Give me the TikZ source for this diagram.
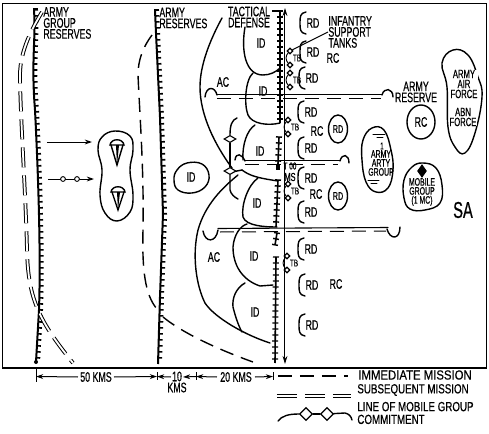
\documentclass[tikz,border=0pt]{standalone}
\usepackage{fontspec}
\setmainfont{Liberation Sans}[FakeStretch=0.64,FakeBold=0.5]
\newfontfamily\legendfont{Liberation Sans}[FakeStretch=0.74,FakeBold=0.5]
\newfontfamily\legendwide{Liberation Sans}[FakeStretch=0.86,FakeBold=0.5]
\usetikzlibrary{decorations.pathreplacing,shapes.geometric,arrows.meta}
\tikzset{
  lbl/.style={inner sep=0pt,align=center,font=\fontsize{6.9}{5.5}\selectfont},
  lblsmall/.style={inner sep=0pt,font=\fontsize{5}{5}\selectfont},
  lblleft/.style={lbl,align=left,anchor=west},
  legendlbl/.style={inner sep=0pt,anchor=west,align=left,font=\fontsize{6.6}{6.4}\legendfont},
  edge/.style={line width=.7pt,line cap=round},
  thin edge/.style={line width=.45pt},
  front/.style={line width=1pt,postaction={decorate,draw,line width=.8pt,
    decoration={border,segment length=3pt,amplitude=2pt,angle=90}}},
  tacfront/.style={line width=.8pt,postaction={decorate,draw,line width=.7pt,
    decoration={ticks,segment length=3pt,amplitude=1.5pt}}},
  immediate/.style={line width=.7pt,dash pattern=on 7pt off 4pt},
  subsequent/.style={line width=.5pt,double,double distance=.9pt,dash pattern=on 10pt off 4pt},
  diam/.style={diamond,draw,fill=white,line width=.55pt,inner sep=0pt,minimum width=6pt,minimum height=3.6pt},
  tbdot/.style={diamond,draw,fill=white,line width=.55pt,inner sep=0pt,minimum size=3pt},
  hop/.style={circle,draw,fill=white,line width=.45pt,inner sep=0pt,minimum size=2.4pt},
  dim/.style={line width=.5pt,-{Stealth[length=3.6pt,width=2.4pt]}},
  blob/.style={edge,smooth cycle,tension=.7}
}
\begin{document}
\begin{tikzpicture}[x=.5pt,y=-.5pt]
  \useasboundingbox (0,0) rectangle (489,434);
  \fill[white] (0,0) rectangle (489,434);
  \draw[line width=.5pt] (2,3) rectangle (487,368);
  \draw[line width=1pt] (2,368) -- (487,368);

  \draw[front] (34,10) .. controls (36,40) and (31,60) .. (35,110) .. controls (38,170) and (41,250) .. (39,310) -- (36,362);
  \draw[line width=.8pt] (33,9) -- (38,9);
  \fill (36,362) circle (2);
  \draw[front] (155,10) -- (156,33) -- (160,117) -- (163,214) -- (160,297) -- (158,364);
  \draw[line width=.8pt] (154,10) -- (159,10);
  \draw[tacfront] (280,11) -- (280,123);
  \draw[tacfront] (279,137) -- (278,164);
  \draw[tacfront] (278,180) -- (276,227);
  \draw[tacfront] (277,233) -- (275,245);
  \draw[tacfront] (276,257) -- (275,363);
  \draw[line width=.8pt] (272,11) -- (280,11);
  \fill (276,165) rectangle (280,170);
  \draw[line width=.5pt,{Stealth[length=4pt,width=2.4pt]}-{Stealth[length=4pt,width=2.4pt]}] (285,8) -- (285,364);

  \draw[subsequent] (42,12) .. controls (33,27) and (20,50) .. (20,75) .. controls (20,110) and (26,200) .. (27,250) .. controls (28,300) and (40,322) .. (73,363);
  \draw[immediate] (152,35) .. controls (143,47) and (138,60) .. (138,75) .. controls (140,120) and (144,170) .. (143,230) .. controls (142,270) and (145,295) .. (157,309);
  \draw[immediate] (163,317) .. controls (185,335) and (225,352) .. (253,362);

  \draw[edge] (222,18) .. controls (210,40) and (200,65) .. (200,87) .. controls (200,115) and (215,145) .. (232,168);
  \draw[edge] (242,170) .. controls (250,176) and (258,178) .. (278,181);
  \draw[edge] (232,172) -- (242,170);
  \draw[edge] (238,175) .. controls (222,188) and (205,205) .. (198,230) .. controls (192,255) and (196,285) .. (205,303) .. controls (215,318) and (245,335) .. (270,343);
  \draw[edge] (245,27) .. controls (241,50) and (245,75) .. (263,75) .. controls (270,75) and (276,72) .. (280,68);
  \draw[edge] (253,73) .. controls (245,80) and (244,105) .. (248,115) .. controls (252,124) and (268,126) .. (280,123);
  \draw[edge] (255,125) .. controls (247,130) and (242,145) .. (243,160);
  \draw[edge] (258,178) .. controls (248,185) and (241,205) .. (243,217) .. controls (246,226) and (265,227) .. (277,227);
  \draw[edge] (247,224) .. controls (240,226) and (234,235) .. (233,247) .. controls (233,265) and (242,280) .. (260,286) -- (273,285);
  \draw[edge] (245,283) .. controls (236,288) and (232,298) .. (233,307) .. controls (235,315) and (238,325) .. (242,332);

  \node[diam] (mga) at (230,139) {};
  \node[diam] (mgb) at (230,171) {};
  \draw[edge] (237,118) .. controls (232,120) and (230,125) .. (mga);
  \draw[edge] (mga) -- (mgb);
  \draw[edge] (mgb) -- (230,190) .. controls (231,194) and (234,197) .. (238,199);

  \draw[edge,line width=.55pt] (217,94.5) -- (382,94.5);
  \draw[immediate,line width=.5pt] (217,98) -- (381,98);
  \draw[edge] (205,97) .. controls (206,86) and (215,86) .. (217,95);
  \draw[edge] (382,95) .. controls (384,87) and (393,88) .. (393,97);
  \draw[edge,line width=.55pt] (245,160.5) -- (340,160.5);
  \draw[immediate,line width=.5pt] (245,164) -- (338,164);
  \draw[edge] (235,160) .. controls (236,152) and (242,154) .. (245,161);
  \draw[edge] (340,161) .. controls (342,153) and (349,154) .. (349,163);
  \draw[edge,line width=.55pt] (218,228.5) -- (388,227.5);
  \draw[immediate,line width=.5pt] (220,232) -- (386,231);
  \draw[edge] (203,231) .. controls (205,243) and (216,243) .. (218,230);
  \draw[edge] (387,229) .. controls (390,240) and (400,240) .. (400,227);

  \foreach \n/\x/\y in {a/313/23, b/313/52, c/312/78, d/311/112, e/311/148, f/311/178, g/311/212, h/311/249, i/312/285, j/312/325} {
    \node[lbl] (rd\n) at (\x,\y) {RD};
    \draw[edge] (\x-7,\y-11) .. controls (\x-13,\y-10) and (\x-13,\y-6) .. (\x-13,\y) .. controls (\x-13,\y+6) and (\x-13,\y+10) .. (\x-7,\y+11);
  }
  \foreach \n/\x/\y in {a/338/129, b/338/196} {
    \node[lbl,font=\fontsize{5.6}{5}\selectfont,draw,ellipse,line width=.7pt,minimum width=9.5pt,minimum height=14pt,inner sep=0pt] (rdc\n) at (\x,\y) {RD};
  }
  \foreach \n/\x/\y in {a/290/58, b/290/80, c/288/127, d/288/191, e/287/263} {
    \node[tbdot] (tbu\n) at (\x,\y-7) {};
    \node[tbdot] (tbl\n) at (\x,\y+7) {};
    \draw[thin edge] (tbu\n) to[bend right=45] (tbl\n);
    \node[lblsmall] (tb\n) at (\x+7,\y) {TB};
  }
  \foreach \n/\x/\y in {a/333/58, b/317/131, c/316/194, d/336/284} {
    \node[lbl] (rc\n) at (\x,\y) {RC};
  }
  \foreach \n/\x/\y in {a/261/43, b/263/91, c/260/151, d/257/203, e/254/256, f/255/312} {
    \node[lbl] (id\n) at (\x,\y) {ID};
  }
  \node[lbl] (aca) at (223,82) {AC};
  \node[lbl] (acb) at (214,257) {AC};
  \node[lblsmall] (tbno) at (290,166) {T 00};
  \node[lbl,font=\fontsize{5.8}{5}\selectfont] (ms) at (290,177) {MS};

  \node[lblleft] (agr) at (43,23) {ARMY\\GROUP\\RESERVES};
  \node[lblleft] (ar) at (159,18) {ARMY\\RESERVES};
  \node[lbl] (td) at (249,17) {TACTICAL\\DEFENSE};
  \node[lblleft] (ist) at (328,32) {INFANTRY\\SUPPORT\\TANKS};
  \draw[thin edge] (ist.west) -- (tbua);
  \node[lbl] (arlbl) at (416,92) {ARMY\\RESERVE};

  \node[lbl] (idfar) at (191,177) {ID};
  \draw[blob] plot coordinates {(177,170) (187,163) (202,164) (209,175) (205,187) (192,193) (178,190) (174,180)};
  \node[lbl,draw,ellipse,line width=.7pt,minimum width=14pt,minimum height=17pt,inner sep=1pt] (rcres) at (421,122) {RC};

  \draw[blob] plot coordinates {(115,131) (130,136) (133,150) (130,170) (133,195) (130,212) (117,221) (105,213) (100,195) (102,170) (98,150) (102,137)};
  \foreach \n/\x/\y/\z in {a/117/143/165, b/118/190/210} {
    \coordinate (chute\n) at (\x,\z);
    \draw[edge] (\x-7,\y+2) .. controls (\x-6,\y-5) and (\x+6,\y-5) .. (\x+7,\y+2) -- cycle;
    \draw[edge] (\x-6,\y+2) -- (chute\n) -- (\x+6,\y+2);
    \fill (\x-1,\y+2) -- (chute\n) -- (\x+2,\y+2) -- cycle;
  }
  \coordinate (arwa) at (47,142);
  \coordinate (arwb) at (92,142);
  \draw[dim] (arwa) -- (arwb);
  \coordinate (arwc) at (48,179);
  \coordinate (arwd) at (94,179);
  \draw[dim] (arwc) -- (arwd);
  \node[hop] (hopa) at (63,179) {};
  \node[hop] (hopb) at (77,179) {};

  \draw[blob] plot coordinates {(372,128) (384,130) (391,150) (393,170) (388,188) (376,192) (366,182) (362,160) (363,140)};
  \draw[edge,line width=.5pt] (373,134) -- (385,134) (377,137) -- (383,137);
  \draw[edge,line width=.5pt] (368,180) -- (379,180) (371,183) -- (377,183);
  \node[lblsmall] (artyno) at (382,146) {1};
  \node[lbl,font=\fontsize{5.4}{4.5}\selectfont] (arty) at (381,163) {ARMY\\ARTY\\GROUP};

  \draw[blob] plot coordinates {(423,163) (436,168) (442,185) (440,203) (425,210) (410,209) (404,198) (404,180) (412,167)};
  \node[diamond,fill=black,inner sep=0pt,minimum width=5pt,minimum height=7pt] (mgd) at (422,171) {};
  \node[lbl,font=\fontsize{5.4}{4.5}\selectfont] (mg) at (422,192) {MOBILE\\GROUP\\(1 MC)};

  \draw[blob] plot coordinates {(442,63) (453,50) (468,55) (478,77) (482,97) (475,133) (465,153) (455,147) (448,127) (447,87)};
  \node[lbl,font=\fontsize{6}{5}\selectfont,fill=white,inner xsep=.5pt] (aaf) at (464,84) {ARMY\\AIR\\FORCE};
  \node[lbl,font=\fontsize{6}{5}\selectfont,fill=white,inner xsep=.5pt] (abn) at (463,117) {ABN\\FORCE};
  \node[lbl,font=\fontsize{11.5}{11}\selectfont] (sa) at (463,210) {SA};

  \coordinate (dta) at (36,369);
  \coordinate (dtb) at (36,382);
  \draw[thin edge] (dta) -- (dtb);
  \foreach \n/\x in {c/157, d/196, e/273} {
    \coordinate (dt\n) at (\x,372);
    \coordinate (dl\n) at (\x,380);
    \draw[thin edge] (dt\n) -- (dl\n);
    \coordinate (dm\n) at (\x,376.5);
  }
  \coordinate (dma) at (36,376.5);
  \node[lbl] (kmsa) at (96,377) {50 KMS};
  \node[lbl] (kmsb) at (177,382) {10\\KMS};
  \node[lbl] (kmsc) at (236,377) {20 KMS};
  \draw[dim] (kmsa) ++(-18,0) -- (dma);
  \draw[dim] (kmsa) ++(18,0) -- (dmc);
  \coordinate (dmbl) at (171,377);
  \coordinate (dmbr) at (183,377);
  \draw[dim] (dmbl) -- (dmc);
  \draw[dim] (dmd) -- (dmbr);
  \draw[dim] (kmsc) ++(-19,0) -- (dmd);
  \draw[dim] (kmsc) ++(19,0) -- (dme);

  \coordinate (lga) at (278,376);
  \coordinate (lgb) at (348,376);
  \draw[immediate,line width=.7pt] (lga) -- (lgb);
  \node[legendlbl,font=\fontsize{6.6}{6.4}\legendwide] (lgi) at (358,375) {IMMEDIATE MISSION};
  \coordinate (lgc) at (277,396);
  \coordinate (lgd) at (351,396);
  \draw[subsequent] (lgc) -- (lgd);
  \node[legendlbl] (lgs) at (357,390) {SUBSEQUENT MISSION};
  \node[diam,minimum width=6.5pt,minimum height=6.5pt] (lgm) at (306,414) {};
  \node[diam,minimum width=6.5pt,minimum height=6.5pt] (lgn) at (327,414) {};
  \draw[edge] (278,421) .. controls (282,416) and (288,414) .. (lgm);
  \draw[edge] (lgm) -- (lgn);
  \draw[edge] (lgn) -- (345,413) .. controls (349,414) and (351,416) .. (352,420);
  \node[legendlbl] (lgl) at (357,413) {LINE OF MOBILE GROUP\\COMMITMENT};
\end{tikzpicture}
\end{document}
